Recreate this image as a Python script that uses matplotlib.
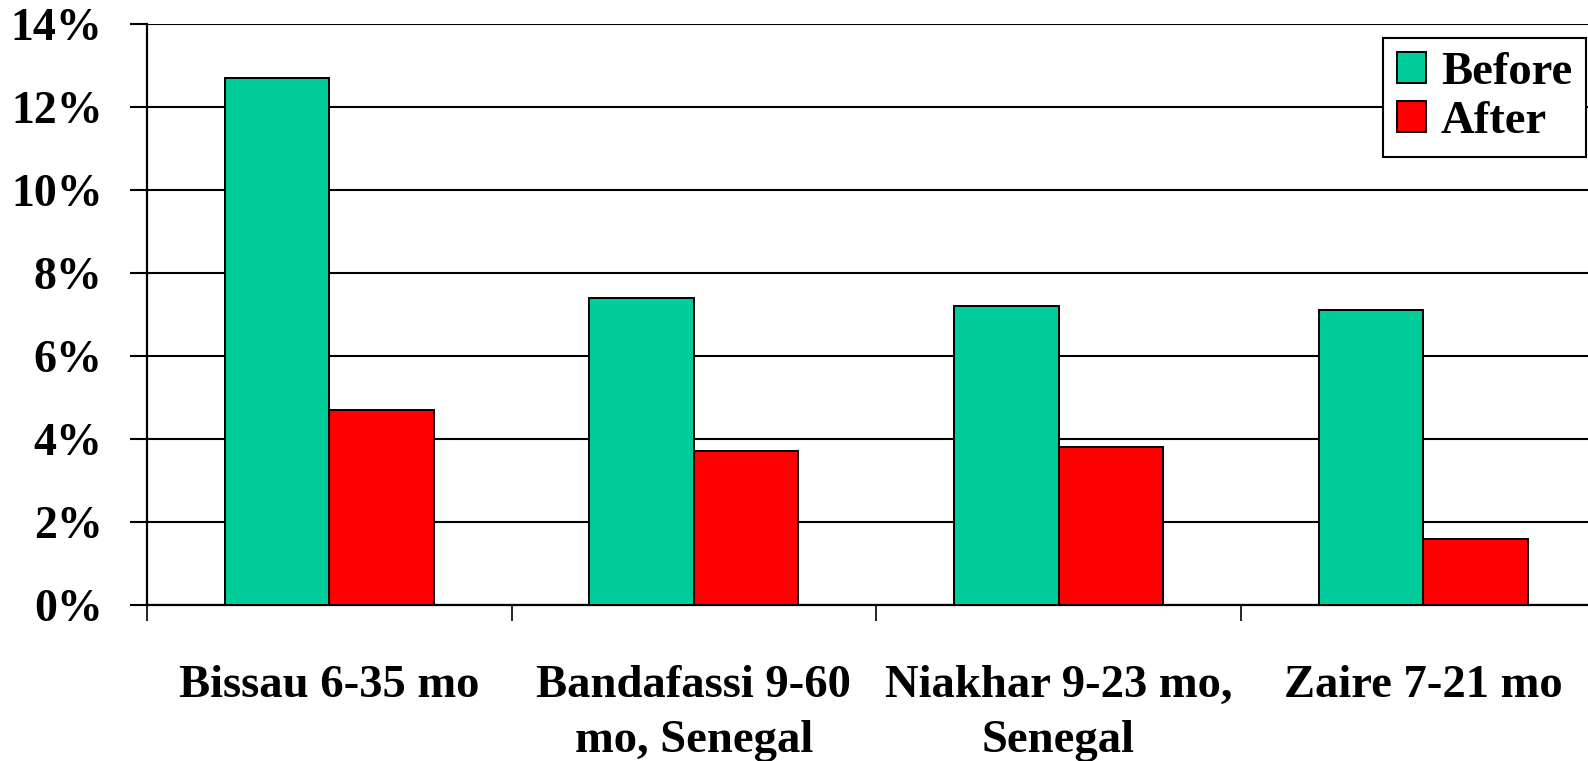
import matplotlib
matplotlib.use("Agg")
import matplotlib.pyplot as plt
import numpy as np
from matplotlib.ticker import FixedLocator, FuncFormatter

# Data
categories = ["Bissau 6-35 mo", "Bandafassi 9-60\nmo, Senegal",
              "Niakhar 9-23 mo,\nSenegal", "Zaire 7-21 mo"]
before = [12.7, 7.4, 7.2, 7.1]
after = [4.7, 3.7, 3.8, 1.6]
series_names = ["Before", "After"]
y_ticks = [0, 2, 4, 6, 8, 10, 12, 14]

GREEN = "#00CC99"
RED = "#FF0000"
FONT = "Liberation Serif"

W, H = 1588, 761
fig = plt.figure(figsize=(W / 100, H / 100), dpi=100)
left_px, right_px = 147, 147 + 4 * 364.6
bottom_px, top_px = 605, 24
ax = fig.add_axes([left_px / W, 1 - bottom_px / H,
                   (right_px - left_px) / W, (bottom_px - top_px) / H])

x = np.arange(len(categories))
bw = 0.2866
ax.bar(x - bw / 2, before, bw, color=GREEN, edgecolor="black",
       linewidth=1.4, label=series_names[0], zorder=3)
ax.bar(x + bw / 2, after, bw, color=RED, edgecolor="black",
       linewidth=1.4, label=series_names[1], zorder=3)

ax.set_xlim(-0.5, len(categories) - 0.5)
ax.set_ylim(0, 14)

# Gridlines
ax.yaxis.set_major_locator(FixedLocator(y_ticks))
ax.grid(axis="y", color="black", linewidth=1.5, zorder=1)
ax.set_axisbelow(True)

for s in ["top", "right"]:
    ax.spines[s].set_visible(False)
ax.spines["left"].set_linewidth(1.6)
ax.spines["bottom"].set_linewidth(1.6)

ax.yaxis.set_major_formatter(FuncFormatter(lambda v, p: f"{int(v)}%"))
ax.tick_params(axis="y", direction="out", length=12, width=1.5,
               pad=20, labelsize=33)
for lab in ax.get_yticklabels():
    lab.set_fontfamily(FONT)
    lab.set_fontweight("bold")

# Category labels on major ticks, boundary tick marks on minor ticks
ax.set_xticks(x)
ax.set_xticklabels(categories, fontfamily=FONT, fontweight="bold",
                   fontsize=33.6, linespacing=1.42)
ax.tick_params(axis="x", which="major", length=0, pad=43)
ax.set_xticks(np.arange(-0.5, len(categories), 1.0), minor=True)
ax.tick_params(axis="x", which="minor", direction="out", length=11.5,
               width=1.2)

leg = fig.legend(loc="upper right", bbox_to_anchor=(1586 / W, 1 - 38 / H),
                 borderaxespad=0, frameon=True, fancybox=False,
                 edgecolor="black", framealpha=1,
                 prop={"family": FONT, "weight": "bold", "size": 33.6},
                 handlelength=0.62, handleheight=0.62, handletextpad=0.32,
                 borderpad=0.3, labelspacing=0.15)
leg.get_frame().set_linewidth(1.5)

fig.savefig("out.png", dpi=100)
